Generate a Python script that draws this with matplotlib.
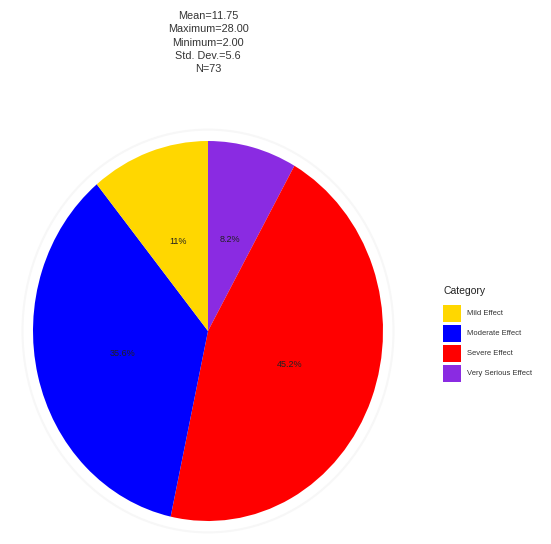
import matplotlib.pyplot as plt
from matplotlib.patches import Ellipse, Rectangle

plt.rcParams['font.family'] = ['Liberation Sans', 'DejaVu Sans']

# data (N=73)
categories = ['Mild Effect', 'Moderate Effect', 'Severe Effect', 'Very Serious Effect']
counts = [8, 26, 33, 6]
pct_labels = ['11%', '35.6%', '45.2%', '8.2%']
colors = ['#FFD700', '#0000FF', '#FF0000', '#8A2BE2']
stats_text = 'Mean=11.75\nMaximum=28.00\nMinimum=2.00\nStd. Dev.=5.6\nN=73'

W, H = 551, 544
fig = plt.figure(figsize=(W / 100, H / 100), dpi=100)

# pie is slightly stretched vertically, like the original
cx, cy, rx, ry = 208, 331, 175, 190
ax = fig.add_axes([(cx - rx) / W, (H - cy - ry) / H, 2 * rx / W, 2 * ry / H])

# faint panel circle behind the pie
ax.add_patch(Ellipse((0, 0), 2.12, 2.12, facecolor='none', edgecolor='#f7f7f7',
                     linewidth=1.5, clip_on=False, zorder=0))

# clockwise from 12 o'clock: Very Serious, Severe, Moderate, Mild
order = [3, 2, 1, 0]
wedges, texts = ax.pie([counts[i] for i in order],
                       colors=[colors[i] for i in order],
                       labels=[pct_labels[i] for i in order],
                       labeldistance=0.5, startangle=90, counterclock=False,
                       radius=1, textprops=dict(fontsize=6.5, color='#222222'))
for t in texts:
    t.set_ha('center')
    t.set_va('center')
ax.set_aspect('auto')
ax.set_xlim(-1, 1)
ax.set_ylim(-1, 1)

fig.text(208 / W, 1 - 11 / H, stats_text, ha='center', va='top', fontsize=7.8,
         color='#333333', linespacing=1.42)

# legend drawn by hand (pixel positions converted to figure fractions)
fig.text(443 / W, 1 - 291 / H, 'Category', ha='left', va='center',
         fontsize=7.5, color='#222222')
for i, (name, c) in enumerate(zip(categories, colors)):
    top = 305 + i * 20
    fig.patches.append(Rectangle((443 / W, 1 - (top + 17) / H), 18 / W, 17 / H,
                                 facecolor=c, edgecolor='none',
                                 transform=fig.transFigure, figure=fig))
    fig.text(467 / W, 1 - (top + 8.5) / H, name, ha='left', va='center',
             fontsize=5.5, color='#333333')

fig.savefig('out.png', dpi=100)
